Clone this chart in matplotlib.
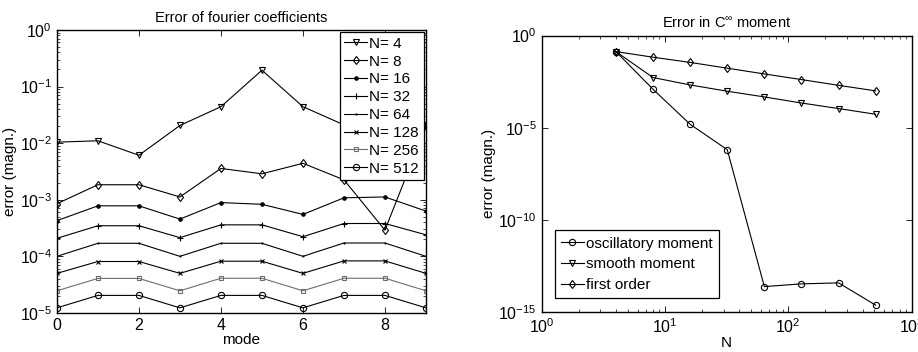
import matplotlib
matplotlib.use("Agg")
import matplotlib.pyplot as plt
import numpy as np

plt.rcParams['font.family'] = ['Liberation Sans', 'DejaVu Sans']
plt.rcParams['mathtext.fontset'] = 'custom'
plt.rcParams['mathtext.rm'] = 'Liberation Sans'
plt.rcParams['mathtext.it'] = 'Liberation Sans:italic'
plt.rcParams['mathtext.bf'] = 'Liberation Sans:bold'

# ---- Left panel data ----
modes = [0, 1, 2, 3, 4, 5, 6, 7, 8, 9]
left_labels = ["N= 4", "N= 8", "N= 16", "N= 32", "N= 64", "N= 128", "N= 256", "N= 512"]
err_N4 = [1.04e-2, 1.1e-2, 6.1e-3, 2.05e-2, 4.4e-2, 1.94e-1, 4.4e-2, 2.1e-2, 2.0e-2, 2.1e-2]
err_N8 = [8.5e-4, 1.84e-3, 1.84e-3, 1.12e-3, 3.57e-3, 2.87e-3, 4.4e-3, 2.25e-3, 2.9e-4, 2.0e-2]
err_N16 = [4.27e-4, 7.8e-4, 7.8e-4, 4.55e-4, 8.9e-4, 8.3e-4, 5.5e-4, 1.08e-3, 1.12e-3, 6.3e-4]
err_N32 = [2.08e-4, 3.47e-4, 3.47e-4, 2.14e-4, 3.6e-4, 3.6e-4, 2.22e-4, 3.8e-4, 3.8e-4, 2.4e-4]
err_N64 = [1.0e-4, 1.7e-4, 1.7e-4, 1.0e-4, 1.7e-4, 1.7e-4, 1.0e-4, 1.72e-4, 1.72e-4, 1.0e-4]
err_N128 = [5.0e-5, 8.1e-5, 8.1e-5, 5.0e-5, 8.2e-5, 8.2e-5, 5.0e-5, 8.3e-5, 8.3e-5, 5.0e-5]
err_N256 = [2.46e-5, 4.07e-5, 4.07e-5, 2.46e-5, 4.1e-5, 4.1e-5, 2.46e-5, 4.1e-5, 4.1e-5, 2.46e-5]
err_N512 = [1.23e-5, 2.04e-5, 2.04e-5, 1.23e-5, 2.04e-5, 2.04e-5, 1.23e-5, 2.04e-5, 2.04e-5, 1.23e-5]

# ---- Right panel data ----
N_values = [4, 8, 16, 32, 64, 128, 256, 512]
osc_moment = [0.135, 1.23e-3, 1.55e-5, 6.5e-7, 2.45e-14, 3.45e-14, 3.9e-14, 2.4e-15]
smooth_moment = [0.135, 5.3e-3, 2.1e-3, 9.6e-4, 4.7e-4, 2.2e-4, 1.1e-4, 5.4e-5]
first_order = [0.135, 6.7e-2, 3.5e-2, 1.7e-2, 8.3e-3, 4.1e-3, 2.0e-3, 1.0e-3]
right_labels = ["oscillatory moment", "smooth moment", "first order"]

fig = plt.figure(figsize=(9.18, 3.52), dpi=100)
ax1 = fig.add_axes([0.062, 0.111, 0.402, 0.804])
ax2 = fig.add_axes([0.590, 0.113, 0.403, 0.786])

lw = 0.8
styles = [
    dict(marker='v', ms=4.5, mfc='none', color='black'),
    dict(marker='d', ms=4.5, mfc='none', color='black'),
    dict(marker='o', ms=2.5, mfc='black', color='black'),
    dict(marker='+', ms=4.5, color='black'),
    dict(marker='.', ms=1.5, color='black'),
    dict(marker='x', ms=3.5, color='black'),
    dict(marker='s', ms=3.5, mfc='none', color='#6e6e6e'),
    dict(marker='o', ms=4.5, mfc='none', color='black'),
]
series = [err_N4, err_N8, err_N16, err_N32, err_N64, err_N128, err_N256, err_N512]
for vals, lab, st in zip(series, left_labels, styles):
    ax1.semilogy(modes, vals, lw=lw, mew=0.8, label=lab, **st)

ax1.set_xlim(0, 9)
ax1.set_ylim(1e-5, 1)
ax1.set_xticks([0, 2, 4, 6, 8])
ax1.set_yticks([1e-5, 1e-4, 1e-3, 1e-2, 1e-1, 1])
ax1.set_title("Error of fourier coefficients", fontsize=10.5, pad=6)
ax1.set_xlabel("mode", fontsize=11, labelpad=0)
ax1.set_ylabel("error (magn.)", fontsize=11, labelpad=2)
leg1 = ax1.legend(loc='upper right', fontsize=11, frameon=True, fancybox=False,
                  edgecolor='black', framealpha=1, handlelength=1.5, handletextpad=0.15,
                  borderpad=0.3, labelspacing=0.25, borderaxespad=0.15)
leg1.get_frame().set_linewidth(0.9)

rstyles = [
    dict(marker='o', ms=4.5, mfc='none', color='black'),
    dict(marker='v', ms=4.5, mfc='none', color='black'),
    dict(marker='d', ms=4.5, mfc='none', color='black'),
]
for vals, lab, st in zip([osc_moment, smooth_moment, first_order], right_labels, rstyles):
    ax2.loglog(N_values, vals, lw=lw, mew=0.8, label=lab, **st)

ax2.set_xlim(1, 1000)
ax2.set_ylim(1e-15, 1)
ax2.set_yticks([1e-15, 1e-10, 1e-5, 1])
ax2.yaxis.set_minor_locator(matplotlib.ticker.NullLocator())
ax2.set_title(r"Error in C$^{\infty}$ moment", fontsize=10.5, pad=6)
ax2.set_xlabel("N", fontsize=11, labelpad=0)
ax2.set_ylabel("error (magn.)", fontsize=11, labelpad=2)
leg2 = ax2.legend(loc='lower left', fontsize=11, frameon=True, fancybox=False,
                  edgecolor='black', framealpha=1, handlelength=1.5, handletextpad=0.15,
                  borderpad=0.4, labelspacing=0.45, borderaxespad=0.0,
                  bbox_to_anchor=(0.035, 0.05))
leg2.get_frame().set_linewidth(0.9)

for ax in (ax1, ax2):
    ax.tick_params(which='both', direction='in', top=True, right=True, labelsize=11.5)
    ax.tick_params(which='major', length=4, width=0.6)
    ax.tick_params(which='minor', length=2, width=0.5)
    for s in ax.spines.values():
        s.set_linewidth(1.0)

fig.savefig("out.png", dpi=100)
